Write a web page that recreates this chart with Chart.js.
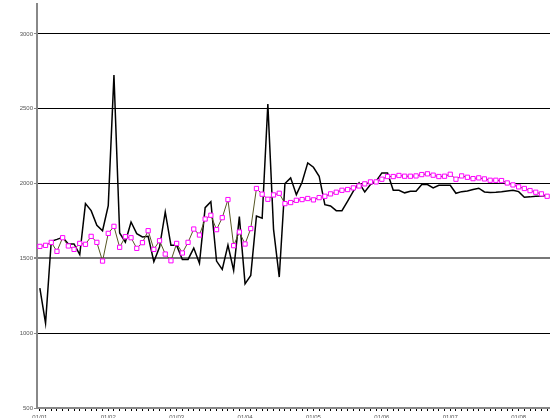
<!DOCTYPE html>
<html><head><meta charset="utf-8">
<script src="https://cdn.jsdelivr.net/npm/chart.js@4/dist/chart.umd.min.js"></script>
<style>html,body{margin:0;padding:0;background:#fff;overflow:hidden}#c{display:block}</style>
</head><body>
<canvas id="c" width="550" height="418"></canvas>
<script>
const yearLabels = ['01/01','01/02','01/03','01/04','01/05','01/06','01/07','01/08'];
const yTicks = [500, 1000, 1500, 2000, 2500, 3000];

// monthly categories, Jan 2001 .. Jun 2008
const months = [];
for (let y = 1; y <= 8; y++) {
  for (let m = 1; m <= 12; m++) {
    months.push(String(m).padStart(2, '0') + '/' + String(y).padStart(2, '0'));
  }
}
const categories = months.slice(0, 90);

const actual = [
  1301,1067,1614,1627,1641,1596,1596,1525,1866,1819,
  1721,1685,1853,2725,1670,1609,1743,1665,1643,1647,
  1478,1575,1810,1587,1587,1493,1493,1569,1467,1839,
  1879,1482,1426,1589,1420,1779,1330,1386,1783,1768,
  2531,1694,1375,2000,2038,1926,2009,2138,2109,2049,
  1859,1850,1819,1819,1882,1949,2004,1944,1993,2016,
  2071,2071,1955,1955,1938,1949,1949,1993,1993,1971,
  1989,1989,1989,1935,1946,1951,1960,1969,1944,1940,
  1942,1946,1951,1955,1946,1908,1911,1915,1917,1920
];
const fitted = [
  1580,1587,1607,1547,1638,1583,1560,1600,1594,1647,
  1607,1482,1667,1714,1574,1645,1638,1567,1605,1685,
  1560,1618,1529,1484,1600,1536,1607,1696,1656,1763,
  1788,1692,1772,1893,1585,1676,1596,1699,1967,1929,
  1895,1924,1935,1866,1873,1888,1893,1900,1891,1906,
  1915,1931,1942,1955,1960,1971,1984,1998,2011,2011,
  2029,2047,2047,2054,2049,2049,2051,2060,2065,2056,
  2047,2049,2062,2029,2051,2042,2033,2038,2031,2022,
  2022,2020,2004,1991,1978,1967,1953,1942,1931,1915
];

new Chart(document.getElementById('c'), {
  type: 'line',
  data: {
    labels: categories,
    datasets: [
      {
        label: 'fitted',
        data: fitted,
        order: 0,
        borderColor: '#555522',
        borderWidth: 1,
        pointStyle: 'rect',
        pointRadius: 3,
        pointBorderColor: '#ff00ff',
        pointBackgroundColor: '#ffffff',
        pointBorderWidth: 1,
        tension: 0,
        clip: false
      },
      {
        label: 'actual',
        data: actual,
        order: 1,
        borderColor: '#000000',
        borderWidth: 1.5,
        pointRadius: 0,
        tension: 0
      }
    ]
  },
  options: {
    responsive: false,
    devicePixelRatio: 1,
    animation: false,
    layout: { autoPadding: false, padding: { top: 4, right: 0, bottom: 0, left: 0 } },
    plugins: { legend: { display: false }, tooltip: { enabled: false } },
    scales: {
      x: {
        type: 'category',
        offset: true,
        afterFit: s => { s.height = 10; s.paddingLeft = 0; s.paddingRight = 0; },
        border: { color: '#888888', width: 2 },
        grid: { offset: false, drawOnChartArea: false, tickLength: 3, color: '#000000', tickWidth: 1 },
        ticks: {
          autoSkip: false, maxRotation: 0, minRotation: 0, padding: 3,
          font: { family: 'Liberation Sans, Arial, sans-serif', size: 6 },
          color: '#555555',
          callback: (v, i) => (i % 12 === 0 ? yearLabels[i / 12] : '')
        }
      },
      y: {
        min: 500,
        max: 3200,
        afterFit: s => { s.width = 37; s.paddingTop = 0; s.paddingBottom = 0; },
        afterBuildTicks: s => { s.ticks = yTicks.map(v => ({ value: v })); },
        border: { color: '#888888', width: 2 },
        grid: {
          color: c => (c.tick && c.tick.value === 500 ? 'rgba(0,0,0,0)' : (c.tick && c.tick.value === 1500 ? '#777777' : '#000000')),
          lineWidth: c => (c.tick && c.tick.value === 1500 ? 2 : 1),
          tickColor: '#888888',
          tickLength: 3
        },
        ticks: {
          padding: 1,
          font: { family: 'Liberation Sans, Arial, sans-serif', size: 6 },
          color: '#555555',
          callback: v => String(v)
        }
      }
    }
  }
});
</script>
</body></html>
